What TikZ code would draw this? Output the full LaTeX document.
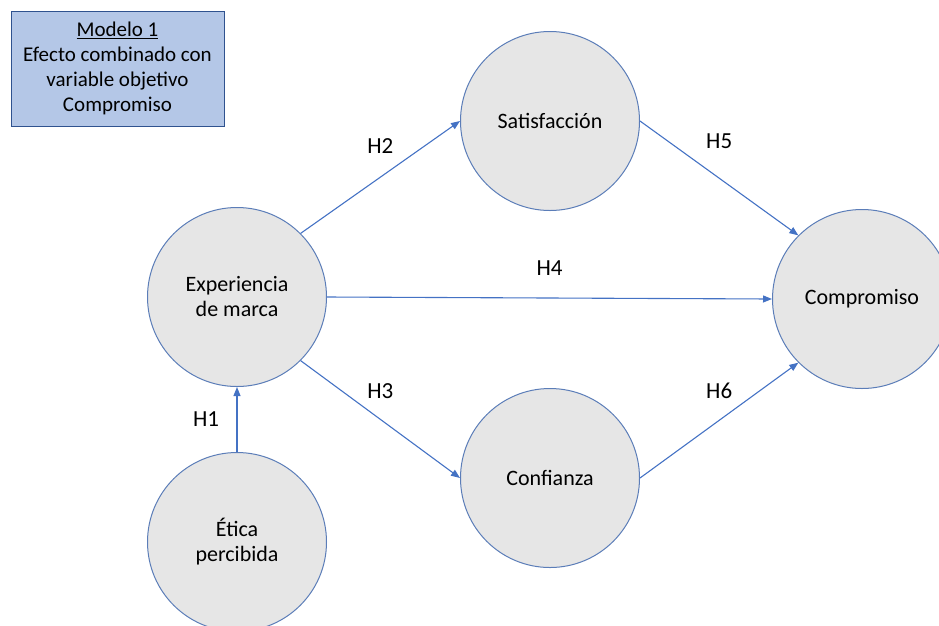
\documentclass[tikz,border=0pt]{standalone}
\usepackage{fontspec}
\setmainfont{Carlito}
\usetikzlibrary{arrows.meta}
\definecolor{flechaazul}{HTML}{4472C4}
\definecolor{bordeazul}{HTML}{5B7DB8}
\definecolor{grisclaro}{HTML}{E6E6E6}
\definecolor{cajaazul}{HTML}{B4C7E7}
\definecolor{bordecaja}{HTML}{2F528F}
\begin{document}
\begin{tikzpicture}[x=1pt,y=-1pt]
        \tikzstyle{constructo}=[circle,draw=bordeazul,line width=1pt,fill=grisclaro,minimum size=179pt,inner sep=0pt,align=center,font=\fontsize{22}{25}\selectfont]
        \tikzstyle{edge}=[draw,flechaazul,line width=1.1pt,-{Triangle[length=9pt,width=7pt]}]
        \tikzstyle{hip}=[text=black,font=\fontsize{23}{27}\selectfont]
        \tikzstyle{caja}=[rectangle,draw=bordecaja,line width=1pt,fill=cajaazul,minimum width=213pt,minimum height=115pt,align=center,font=\fontsize{21}{25}\selectfont]
       \clip (0,0) rectangle (939,625);
       \begin{scope}
         \node [caja] (modelo) at (117.5,68.5) {\underline{Modelo 1}\\Efecto combinado con\\variable objetivo\\Compromiso};
         \node [constructo] (sat) at (550,121) {Satisfacción};
         \node [constructo] (exp) at (237,297) {Experiencia\\de marca};
         \node [constructo] (comp) at (862,299) {Compromiso};
         \node [constructo] (conf) at (550,478) {Confianza};
         \node [constructo] (etica) at (237,542) {Ética\\percibida};
         \path (etica) edge[edge] node[hip,left=14pt] {H1} (exp);
         \path (exp.45) edge[edge] node[hip,above=20pt] {H2} (sat.west);
         \path (exp.-45) edge[edge] node[hip,above=17pt] {H3} (conf.west);
         \path (exp.east) edge[edge] node[hip,above=19pt] {H4} (comp.west);
         \path (sat.east) edge[edge] node[hip,above=26pt] {H5} (comp.135);
         \path (conf.east) edge[edge] node[hip,above=18pt] {H6} (comp.-135);
        \end{scope}
      \end{tikzpicture}
\end{document}
